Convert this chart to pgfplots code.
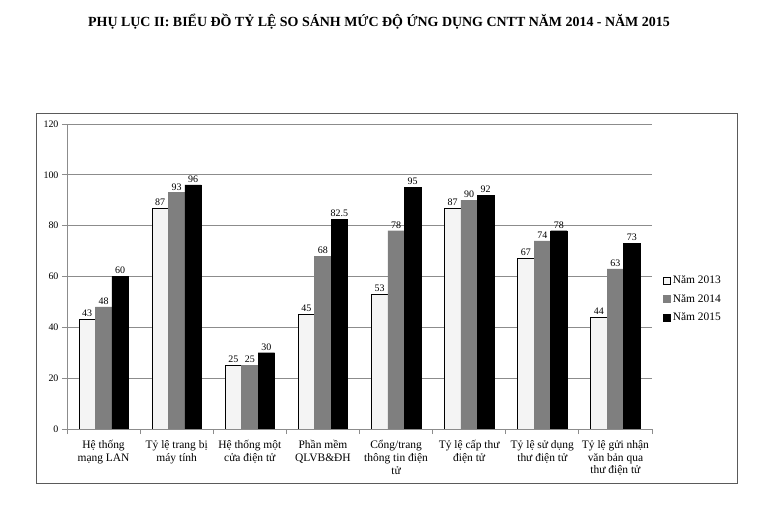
\documentclass[border=0pt]{standalone}
\usepackage{fontspec}
\setmainfont{Liberation Serif}
\usepackage{pgfplots}
\pgfplotsset{compat=1.18}
\definecolor{gbar}{HTML}{7F7F7F}
\definecolor{wbar}{HTML}{F4F4F4}
\definecolor{gridc}{HTML}{8C8C8C}
\definecolor{framec}{HTML}{5A5A5A}
\begin{document}
\begin{tikzpicture}
\path (-67bp,-90bp) rectangle (691bp,429bp);
\draw[color=framec, line width=0.9bp] (-31bp,-54bp) rectangle (670bp,316bp);
\node[font=\bfseries\fontsize{14}{16}\selectfont] at (312bp,407bp) {PHỤ LỤC II: BIỂU ĐỒ TỶ LỆ SO SÁNH MỨC ĐỘ ỨNG DỤNG CNTT NĂM 2014 - NĂM 2015};
\begin{axis}[
  at={(0bp,0bp)}, anchor=south west,
  scale only axis, width=585bp, height=305bp,
  xmin=-0.5, xmax=7.5, ymin=0, ymax=120,
  ytick={0,20,...,120},
  /pgf/number format/assume math mode=true,
  axis x line=bottom, axis y line=left,
  axis line style={gridc, line width=0.9bp, -},
  ymajorgrids, grid style={gridc, line width=0.9bp},
  tick align=outside,
  major tick length=5bp, minor tick length=5bp,
  y tick style={gridc, line width=0.9bp},
  major x tick style={draw=none},
  minor x tick style={gridc, line width=0.9bp},
  xtick={0,...,7},
  minor xtick={-0.5,0.5,...,7.5},
  xticklabels={{Hệ thống\\mạng LAN},{Tỷ lệ trang bị\\máy tính},{Hệ thống một\\cửa điện tử},{Phần mềm\\QLVB\&ĐH},{Cổng/trang\\thông tin điện\\tử},{Tỷ lệ cấp thư\\điện tử},{Tỷ lệ sử dụng\\thư điện tử},{Tỷ lệ gửi nhận\\văn bản qua\\thư điện tử}},
  x tick label style={align=center, font=\fontsize{11.5}{12.7}\selectfont, yshift=-3bp},
  y tick label style={font=\fontsize{10}{12}\selectfont},
  ybar=0pt, bar width=16.5bp,
  nodes near coords,
  every node near coord/.append style={font=\fontsize{10}{12}\selectfont, black, yshift=-1bp},
  legend style={at={(1,0.426)}, anchor=west, xshift=8bp, draw=none, fill=none,
    font=\fontsize{11.5}{13}\selectfont, row sep=5bp},
  legend cell align=left,
]
\addplot[draw=black, fill=wbar, line width=0.6bp,
  legend image code/.code={\draw[draw=black, fill=wbar, line width=0.6bp] (0bp,-3.5bp) rectangle (7bp,3.5bp);}]
  coordinates {(0,43) (1,87) (2,25) (3,45) (4,53) (5,87) (6,67) (7,44)};
\addplot[draw=gbar, fill=gbar,
  legend image code/.code={\draw[draw=gbar, fill=gbar] (0bp,-3.5bp) rectangle (7bp,3.5bp);}]
  coordinates {(0,48) (1,93) (2,25) (3,68) (4,78) (5,90) (6,74) (7,63)};
\addplot[draw=black, fill=black,
  legend image code/.code={\draw[draw=black, fill=black] (0bp,-3.5bp) rectangle (7bp,3.5bp);}]
  coordinates {(0,60) (1,96) (2,30) (3,82.5) (4,95) (5,92) (6,78) (7,73)};
\legend{Năm 2013, Năm 2014, Năm 2015}
\end{axis}
\end{tikzpicture}
\end{document}
